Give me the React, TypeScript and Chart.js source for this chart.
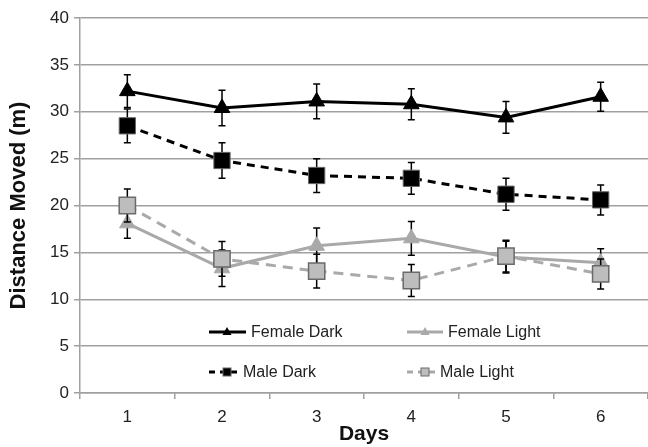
import React, { useEffect, useRef } from 'react';
import { Chart, registerables } from 'chart.js';

Chart.register(...registerables);

const days = ['1', '2', '3', '4', '5', '6'];
const femaleDark = [32.2, 30.4, 31.1, 30.8, 29.4, 31.6];
const femaleDarkErr = [1.75, 1.9, 1.85, 1.65, 1.7, 1.55];
const maleDark = [28.5, 24.8, 23.2, 22.9, 21.2, 20.6];
const maleDarkErr = [1.8, 1.9, 1.8, 1.7, 1.7, 1.6];
const femaleLight = [18.1, 13.3, 15.7, 16.5, 14.5, 13.9];
const femaleLightErr = [1.6, 1.95, 1.9, 1.8, 1.7, 1.5];
const maleLight = [20.0, 14.3, 13.0, 12.0, 14.6, 12.7];
const maleLightErr = [1.75, 1.85, 1.8, 1.7, 1.7, 1.6];

const FONT = "'Liberation Sans', Arial, sans-serif";
const GRID = '#a0a0a0';
const LIGHT = '#a9a9a9';

const errorBars = {
  id: 'errorBars',
  beforeDatasetDraw(chart: any, args: any) {
    const ds: any = chart.data.datasets[args.index];
    const err: number[] | undefined = ds.errors;
    if (!err) return;
    const ctx = chart.ctx;
    const xs = chart.scales.x;
    const ys = chart.scales.y;
    ctx.save();
    ctx.strokeStyle = '#000';
    ctx.lineWidth = 1.5;
    ctx.setLineDash([]);
    (ds.data as number[]).forEach((v, j) => {
      const px = xs.getPixelForValue(j);
      const top = ys.getPixelForValue(v + err[j]);
      const bot = ys.getPixelForValue(v - err[j]);
      ctx.beginPath();
      ctx.moveTo(px, top);
      ctx.lineTo(px, bot);
      ctx.moveTo(px - 3.5, top);
      ctx.lineTo(px + 3.5, top);
      ctx.moveTo(px - 3.5, bot);
      ctx.lineTo(px + 3.5, bot);
      ctx.stroke();
    });
    ctx.restore();
  },
};

const legendInside = {
  id: 'legendInside',
  afterDraw(chart: any) {
    const ctx = chart.ctx;
    const a = chart.chartArea;
    const items = [
      { ds: 0, x: a.left + 129, y: 332, len: 37, mark: 'tri' },
      { ds: 2, x: a.left + 327, y: 332, len: 36, mark: 'tri' },
      { ds: 1, x: a.left + 129, y: 372, len: 29, mark: 'sq' },
      { ds: 3, x: a.left + 327, y: 372, len: 28, mark: 'sq' },
    ];
    ctx.save();
    items.forEach((it) => {
      const ds: any = chart.data.datasets[it.ds];
      ctx.strokeStyle = ds.borderColor;
      ctx.lineWidth = 3;
      ctx.setLineDash(ds.borderDash && ds.borderDash.length ? [6, 5] : []);
      ctx.beginPath();
      ctx.moveTo(it.x, it.y);
      ctx.lineTo(it.x + it.len, it.y);
      ctx.stroke();
      ctx.setLineDash([]);
      const cx = it.x + 18;
      ctx.fillStyle = ds.pointBackgroundColor;
      ctx.strokeStyle = ds.pointBorderColor;
      ctx.lineWidth = 1;
      if (it.mark === 'tri') {
        ctx.beginPath();
        ctx.moveTo(cx, it.y - 5);
        ctx.lineTo(cx + 4.5, it.y + 3);
        ctx.lineTo(cx - 4.5, it.y + 3);
        ctx.closePath();
        ctx.fill();
      } else {
        ctx.fillRect(cx - 4, it.y - 4, 8, 8);
        ctx.strokeRect(cx - 4, it.y - 4, 8, 8);
      }
      ctx.fillStyle = '#222';
      ctx.font = `16px ${FONT}`;
      ctx.textBaseline = 'middle';
      ctx.textAlign = 'left';
      ctx.fillText(ds.label, it.x + it.len + 5, it.y + 1);
    });
    ctx.restore();
  },
};

export default function App() {
  const ref = useRef<HTMLCanvasElement>(null);

  useEffect(() => {
    document.body.style.margin = '0';
    document.documentElement.style.overflow = 'hidden';
    document.body.style.overflow = 'hidden';
    const chart = new Chart(ref.current!, {
      type: 'line',
      data: {
        labels: days,
        datasets: [
          {
            label: 'Female Dark',
            data: femaleDark,
            errors: femaleDarkErr,
            borderColor: '#000',
            borderWidth: 3,
            pointStyle: 'triangle',
            pointRadius: 9,
            pointBackgroundColor: '#000',
            pointBorderColor: '#000',
            pointBorderWidth: 1,
            order: 3,
          } as any,
          {
            label: 'Male Dark',
            data: maleDark,
            errors: maleDarkErr,
            borderColor: '#000',
            borderWidth: 3,
            borderDash: [8, 6],
            pointStyle: 'rect',
            pointRadius: 11.5,
            pointBackgroundColor: '#000',
            pointBorderColor: '#666',
            pointBorderWidth: 1,
            order: 2,
          } as any,
          {
            label: 'Female Light',
            data: femaleLight,
            errors: femaleLightErr,
            borderColor: LIGHT,
            borderWidth: 3,
            pointStyle: 'triangle',
            pointRadius: 9,
            pointBackgroundColor: LIGHT,
            pointBorderColor: LIGHT,
            pointBorderWidth: 1,
            order: 1,
          } as any,
          {
            label: 'Male Light',
            data: maleLight,
            errors: maleLightErr,
            borderColor: LIGHT,
            borderWidth: 3,
            borderDash: [10, 7],
            pointStyle: 'rect',
            pointRadius: 11.5,
            pointBackgroundColor: '#bdbdbd',
            pointBorderColor: '#6a6a6a',
            pointBorderWidth: 1.5,
            order: 0,
          } as any,
        ],
      },
      options: {
        animation: false,
        responsive: true,
        maintainAspectRatio: false,
        layout: { autoPadding: false, padding: { top: 18, right: 0, left: 0, bottom: 0 } },
        plugins: {
          legend: { display: false },
          tooltip: { enabled: false },
        },
        scales: {
          x: {
            offset: true,
            grid: {
              drawOnChartArea: false,
              drawTicks: true,
              tickLength: 6,
              color: GRID,
              lineWidth: 1.5,
              offset: true,
            },
            border: { color: GRID, width: 1.5 },
            ticks: {
              color: '#222',
              padding: 8,
              font: { family: FONT, size: 17 },
            },
            title: {
              display: true,
              text: 'Days',
              color: '#111',
              font: { family: FONT, size: 21, weight: 'bold' },
              padding: { top: 0, bottom: 0 },
            },
            afterFit(scale: any) {
              scale.height = 54;
              scale.paddingRight = 0;
              scale.paddingLeft = 0;
            },
          },
          y: {
            min: 0,
            max: 40,
            ticks: {
              stepSize: 5,
              color: '#222',
              padding: 5,
              font: { family: FONT, size: 17 },
            },
            grid: {
              color: GRID,
              lineWidth: 1.5,
              tickLength: 6,
            },
            border: { color: GRID, width: 1.5 },
            title: {
              display: true,
              text: 'Distance Moved (m)',
              color: '#111',
              font: { family: FONT, size: 22, weight: 'bold' },
              padding: { top: 6, bottom: 0 },
            },
            afterFit(scale: any) {
              scale.width = 80;
            },
          },
        },
      },
      plugins: [errorBars, legendInside],
    } as any);
    return () => chart.destroy();
  }, []);

  return (
    <div style={{ position: 'absolute', left: 0, top: 0, width: 648, height: 447, overflow: 'hidden' }}>
      <canvas ref={ref} style={{ display: 'block' }} />
    </div>
  );
}
